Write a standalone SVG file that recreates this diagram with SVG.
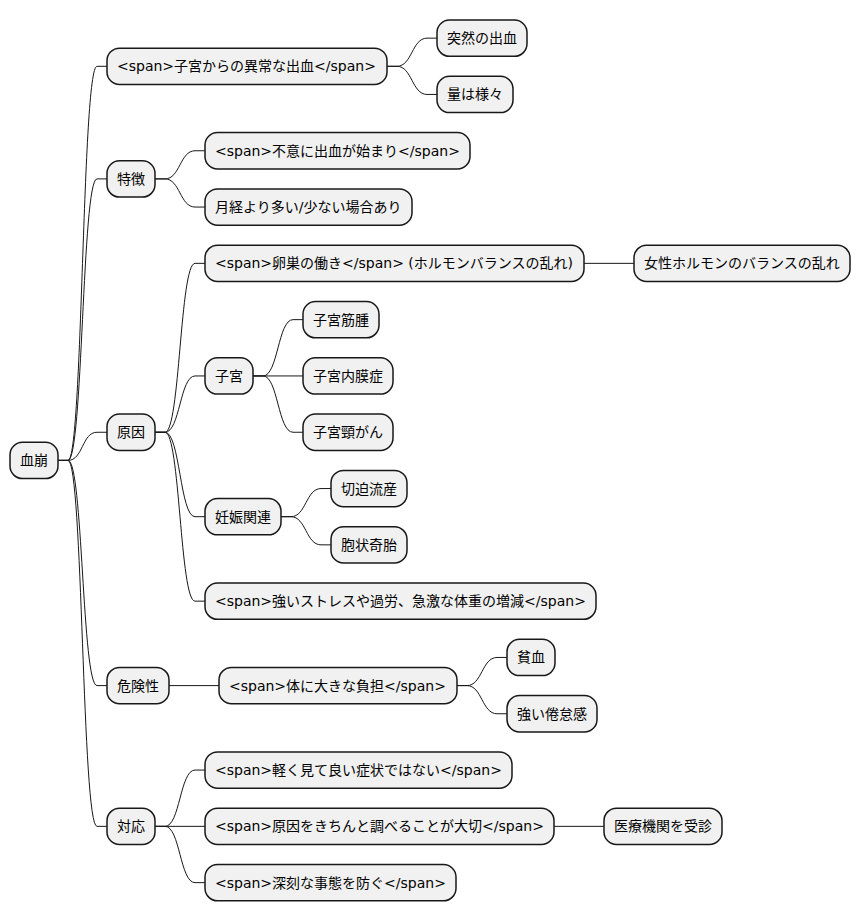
<svg xmlns="http://www.w3.org/2000/svg" width="861" height="921" viewBox="0 0 861 921">
<style>
rect{fill:#F1F1F1;stroke:#181818;stroke-width:1.5}
text{font-family:"DejaVu Sans","Noto Sans CJK JP",sans-serif;font-size:14px;fill:#000}
#connectors path{fill:none;stroke:#181818;stroke-width:1}
</style>
<rect x="0" y="0" width="861" height="921" style="fill:#fff;stroke:none"/>
<g id="connectors">
<path d="M58 460.4 L68 460.4 C83 460.4 82 66.3 97 66.3 L107 66.3"/>
<path d="M58 460.4 L68 460.4 C83 460.4 82 178.9 97 178.9 L107 178.9"/>
<path d="M58 460.4 L68 460.4 C83 460.4 82 432.25 97 432.25 L107 432.25"/>
<path d="M58 460.4 L68 460.4 C83 460.4 82 685.6 97 685.6 L107 685.6"/>
<path d="M58 460.4 L68 460.4 C83 460.4 82 826.35 97 826.35 L107 826.35"/>
<path d="M387 66.3 L397 66.3 C412 66.3 412 38.15 427 38.15 L437 38.15"/>
<path d="M387 66.3 L397 66.3 C412 66.3 412 94.45 427 94.45 L437 94.45"/>
<path d="M155 178.9 L165 178.9 C180 178.9 180 150.75 195 150.75 L205 150.75"/>
<path d="M155 178.9 L165 178.9 C180 178.9 180 207.05 195 207.05 L205 207.05"/>
<path d="M155 432.25 L165 432.25 C180 432.25 180 263.35 195 263.35 L205 263.35"/>
<path d="M155 432.25 L165 432.25 C180 432.25 180 375.95 195 375.95 L205 375.95"/>
<path d="M155 432.25 L165 432.25 C180 432.25 180 516.7 195 516.7 L205 516.7"/>
<path d="M155 432.25 L165 432.25 C180 432.25 180 601.15 195 601.15 L205 601.15"/>
<path d="M584 263.35 L634 263.35"/>
<path d="M253 375.95 L263 375.95 C278 375.95 278 319.65 293 319.65 L303 319.65"/>
<path d="M253 375.95 L303 375.95"/>
<path d="M253 375.95 L263 375.95 C278 375.95 278 432.25 293 432.25 L303 432.25"/>
<path d="M281 516.7 L291 516.7 C306 516.7 306 488.55 321 488.55 L331 488.55"/>
<path d="M281 516.7 L291 516.7 C306 516.7 306 544.85 321 544.85 L331 544.85"/>
<path d="M169 685.6 L219 685.6"/>
<path d="M457 685.6 L467 685.6 C482 685.6 482 657.45 497 657.45 L507 657.45"/>
<path d="M457 685.6 L467 685.6 C482 685.6 482 713.75 497 713.75 L507 713.75"/>
<path d="M155 826.35 L165 826.35 C180 826.35 180 770.05 195 770.05 L205 770.05"/>
<path d="M155 826.35 L205 826.35"/>
<path d="M155 826.35 L165 826.35 C180 826.35 180 882.65 195 882.65 L205 882.65"/>
<path d="M554 826.35 L604 826.35"/>
</g>
<g id="root"><rect x="10" y="442.25" width="48" height="36.3" rx="12.5"/><text x="20" y="465.4">血崩</text></g>
<g id="n1"><rect x="107" y="48.15" width="280" height="36.3" rx="12.5"/><text x="117" y="71.3">&lt;span&gt;子宮からの異常な出血&lt;/span&gt;</text></g>
<g id="n1a"><rect x="437" y="20" width="90" height="36.3" rx="12.5"/><text x="447" y="43.15">突然の出血</text></g>
<g id="n1b"><rect x="437" y="76.3" width="76" height="36.3" rx="12.5"/><text x="447" y="99.45">量は様々</text></g>
<g id="n2"><rect x="107" y="160.75" width="48" height="36.3" rx="12.5"/><text x="117" y="183.9">特徴</text></g>
<g id="n2a"><rect x="205" y="132.6" width="265" height="36.3" rx="12.5"/><text x="215" y="155.75">&lt;span&gt;不意に出血が始まり&lt;/span&gt;</text></g>
<g id="n2b"><rect x="205" y="188.9" width="207" height="36.3" rx="12.5"/><text x="215" y="212.05">月経より多い/少ない場合あり</text></g>
<g id="n3"><rect x="107" y="414.1" width="48" height="36.3" rx="12.5"/><text x="117" y="437.25">原因</text></g>
<g id="n3a"><rect x="205" y="245.2" width="379" height="36.3" rx="12.5"/><text x="215" y="268.35">&lt;span&gt;卵巣の働き&lt;/span&gt; (ホルモンバランスの乱れ)</text></g>
<g id="n3a1"><rect x="634" y="245.2" width="216" height="36.3" rx="12.5"/><text x="644" y="268.35">女性ホルモンのバランスの乱れ</text></g>
<g id="n3b"><rect x="205" y="357.8" width="48" height="36.3" rx="12.5"/><text x="215" y="380.95">子宮</text></g>
<g id="n3b1"><rect x="303" y="301.5" width="76" height="36.3" rx="12.5"/><text x="313" y="324.65">子宮筋腫</text></g>
<g id="n3b2"><rect x="303" y="357.8" width="90" height="36.3" rx="12.5"/><text x="313" y="380.95">子宮内膜症</text></g>
<g id="n3b3"><rect x="303" y="414.1" width="90" height="36.3" rx="12.5"/><text x="313" y="437.25">子宮頸がん</text></g>
<g id="n3c"><rect x="205" y="498.55" width="76" height="36.3" rx="12.5"/><text x="215" y="521.7">妊娠関連</text></g>
<g id="n3c1"><rect x="331" y="470.4" width="76" height="36.3" rx="12.5"/><text x="341" y="493.55">切迫流産</text></g>
<g id="n3c2"><rect x="331" y="526.7" width="76" height="36.3" rx="12.5"/><text x="341" y="549.85">胞状奇胎</text></g>
<g id="n3d"><rect x="205" y="583" width="391" height="36.3" rx="12.5"/><text x="215" y="606.15">&lt;span&gt;強いストレスや過労、急激な体重の増減&lt;/span&gt;</text></g>
<g id="n4"><rect x="107" y="667.45" width="62" height="36.3" rx="12.5"/><text x="117" y="690.6">危険性</text></g>
<g id="n4a"><rect x="219" y="667.45" width="238" height="36.3" rx="12.5"/><text x="229" y="690.6">&lt;span&gt;体に大きな負担&lt;/span&gt;</text></g>
<g id="n4a1"><rect x="507" y="639.3" width="48" height="36.3" rx="12.5"/><text x="517" y="662.45">貧血</text></g>
<g id="n4a2"><rect x="507" y="695.6" width="90" height="36.3" rx="12.5"/><text x="517" y="718.75">強い倦怠感</text></g>
<g id="n5"><rect x="107" y="808.2" width="48" height="36.3" rx="12.5"/><text x="117" y="831.35">対応</text></g>
<g id="n5a"><rect x="205" y="751.9" width="307" height="36.3" rx="12.5"/><text x="215" y="775.05">&lt;span&gt;軽く見て良い症状ではない&lt;/span&gt;</text></g>
<g id="n5b"><rect x="205" y="808.2" width="349" height="36.3" rx="12.5"/><text x="215" y="831.35">&lt;span&gt;原因をきちんと調べることが大切&lt;/span&gt;</text></g>
<g id="n5b1"><rect x="604" y="808.2" width="118" height="36.3" rx="12.5"/><text x="614" y="831.35">医療機関を受診</text></g>
<g id="n5c"><rect x="205" y="864.5" width="251" height="36.3" rx="12.5"/><text x="215" y="887.65">&lt;span&gt;深刻な事態を防ぐ&lt;/span&gt;</text></g>
</svg>
